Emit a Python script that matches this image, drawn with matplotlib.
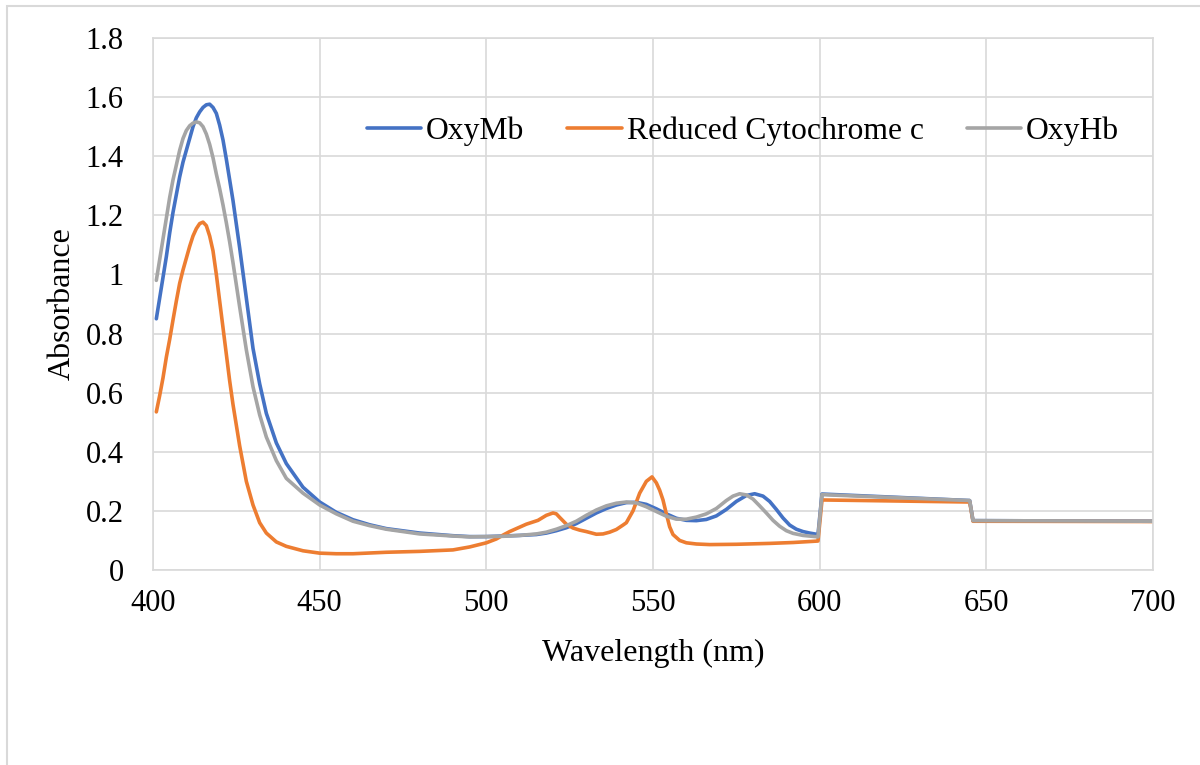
import matplotlib
matplotlib.use("Agg")
import matplotlib.pyplot as plt
from matplotlib.patches import Rectangle

plt.rcParams['font.family'] = ['Liberation Serif', 'DejaVu Serif']

# OxyMb: wavelength (nm) / absorbance
wl_mb = [401, 402, 403, 404, 405, 406, 407, 408, 409, 410, 411, 412, 413, 414, 415, 416, 417,
         418, 419, 420, 421, 422, 423, 424, 425, 426, 428, 430, 432, 434, 437, 440, 445, 450,
         455, 460, 465, 470, 480, 490, 495, 500, 505, 510, 515, 518, 521, 524, 527, 530, 533,
         536, 539, 542, 545, 548, 551, 554, 557, 560, 563, 566, 569, 572, 575, 578, 580.5, 583,
         585, 587, 589, 591, 593, 595, 597, 599.5, 600.7, 645, 646, 700]
a_mb = [0.85, 0.92, 0.99, 1.06, 1.14, 1.21, 1.27, 1.33, 1.38, 1.42, 1.46, 1.50, 1.53, 1.55, 1.565,
        1.574, 1.576, 1.565, 1.545, 1.505, 1.455, 1.39, 1.32, 1.25, 1.17, 1.09, 0.92, 0.75, 0.63,
        0.53, 0.43, 0.36, 0.28, 0.23, 0.195, 0.17, 0.153, 0.14, 0.125, 0.116, 0.113, 0.113, 0.115,
        0.117, 0.12, 0.125, 0.133, 0.143, 0.157, 0.175, 0.193, 0.208, 0.22, 0.228, 0.229, 0.222,
        0.207, 0.19, 0.175, 0.168, 0.167, 0.171, 0.183, 0.205, 0.232, 0.252, 0.258, 0.25, 0.232,
        0.205, 0.176, 0.152, 0.138, 0.13, 0.125, 0.12, 0.257, 0.235, 0.167, 0.165]

# Reduced cytochrome c
wl_cyt = [401, 402, 403, 404, 405, 406, 407, 408, 409, 410, 411, 412, 413, 414, 415, 416, 417,
          418, 419, 420, 421, 422, 423, 424, 425, 426, 428, 430, 432, 434, 437, 440, 445, 450,
          455, 460, 470, 480, 490, 495, 500, 503, 505, 507, 509, 512, 515.5, 518, 520, 521, 522,
          524, 526, 528, 530, 533, 535, 537, 539, 541, 542, 544, 546, 548, 549.7, 551, 552, 553,
          554, 555, 556, 558, 560, 563, 567, 575, 585, 592, 599.5, 600.7, 645, 646, 700]
a_cyt = [0.535, 0.59, 0.65, 0.72, 0.78, 0.846, 0.91, 0.97, 1.015, 1.055, 1.095, 1.13, 1.155, 1.172,
         1.177, 1.165, 1.13, 1.08, 1.00, 0.91, 0.82, 0.73, 0.64, 0.56, 0.49, 0.42, 0.30, 0.22,
         0.16, 0.125, 0.095, 0.08, 0.065, 0.057, 0.055, 0.055, 0.06, 0.063, 0.068, 0.078, 0.092,
         0.105, 0.118, 0.13, 0.14, 0.155, 0.168, 0.185, 0.193, 0.19, 0.178, 0.155, 0.142, 0.135,
         0.13, 0.121, 0.122, 0.128, 0.137, 0.152, 0.16, 0.2, 0.26, 0.30, 0.315, 0.295, 0.27,
         0.237, 0.19, 0.146, 0.12, 0.10, 0.092, 0.088, 0.086, 0.087, 0.09, 0.093, 0.098, 0.237,
         0.23, 0.165, 0.164]

# OxyHb
wl_hb = [401, 402, 403, 404, 405, 406, 407, 408, 409, 410, 411, 412, 413, 414, 415, 416, 417,
         418, 419, 420, 421, 422, 423, 424, 426, 428, 430, 432, 434, 437, 440, 445, 450, 455,
         460, 465, 470, 480, 490, 495, 500, 505, 510, 515, 518, 521, 524, 527, 530, 533, 536,
         539, 542, 545, 548, 551, 554, 557, 560, 563, 566, 569, 572, 574, 576, 578, 580, 582,
         584, 586, 588, 590, 592, 595, 599.5, 600.7, 645, 646, 700]
a_hb = [0.98, 1.05, 1.12, 1.19, 1.26, 1.32, 1.37, 1.42, 1.46, 1.487, 1.503, 1.512, 1.516, 1.513,
        1.50, 1.475, 1.44, 1.395, 1.34, 1.29, 1.235, 1.175, 1.11, 1.04, 0.89, 0.745, 0.62, 0.525,
        0.45, 0.37, 0.31, 0.26, 0.22, 0.19, 0.165, 0.15, 0.138, 0.122, 0.115, 0.112, 0.113, 0.114,
        0.117, 0.122, 0.128, 0.138, 0.15, 0.165, 0.185, 0.203, 0.217, 0.226, 0.23, 0.227, 0.214,
        0.198, 0.182, 0.172, 0.172, 0.179, 0.19, 0.208, 0.235, 0.25, 0.258, 0.254, 0.24, 0.217,
        0.193, 0.168, 0.148, 0.133, 0.124, 0.117, 0.112, 0.255, 0.235, 0.167, 0.165]

GRID = '#D9D9D9'

fig = plt.figure(figsize=(12, 7.65), dpi=100)
ax = fig.add_axes([153/1200, 1-570/765, 1000/1200, 532/765])

# outer chart frame (cut off at right/bottom like the source)
fig.add_artist(Rectangle((7/1200, -0.1), 1.2, 1.092, transform=fig.transFigure,
                         fill=False, edgecolor=GRID, linewidth=1.5, clip_on=False))

kw = dict(linewidth=2.6, solid_joinstyle='round', solid_capstyle='round')
ax.plot(wl_mb, a_mb, color='#4472C4', label='OxyMb', **kw)
ax.plot(wl_cyt, a_cyt, color='#ED7D31', label='Reduced Cytochrome c', **kw)
ax.plot(wl_hb, a_hb, color='#A5A5A5', label='OxyHb', **kw)

ax.set_xlim(400, 700)
ax.set_ylim(0, 1.8)
ax.set_xticks(range(400, 701, 50))
ax.set_yticks([0, 0.2, 0.4, 0.6, 0.8, 1, 1.2, 1.4, 1.6, 1.8])
ax.set_yticklabels(['0', '0.2', '0.4', '0.6', '0.8', '1', '1.2', '1.4', '1.6', '1.8'])
ax.grid(True, color=GRID, linewidth=1.2)
ax.set_axisbelow(True)
for s in ax.spines.values():
    s.set_color(GRID)
    s.set_linewidth(1.2)
ax.tick_params(length=0, labelsize=22)
ax.tick_params(axis='x', pad=14)
ax.tick_params(axis='y', pad=21)

ax.set_xlabel('Wavelength (nm)', fontsize=23, va='center')
ax.xaxis.set_label_coords(0.5, (570-653)/532)
ax.set_ylabel('Absorbance', fontsize=23, va='center')
ax.yaxis.set_label_coords((62-153)/1000, 0.5)

ax.legend(loc='center', bbox_to_anchor=(0.590, 0.825), ncol=3, frameon=False,
          fontsize=22.8, handlelength=1.73, handletextpad=0.15, columnspacing=1.35)

fig.savefig('out.png', dpi=100)
